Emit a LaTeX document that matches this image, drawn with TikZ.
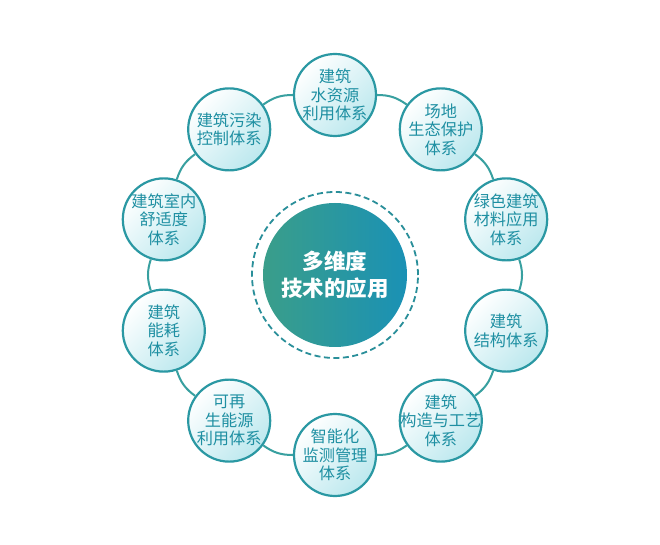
\documentclass[tikz,border=0pt]{standalone}
\usepackage{fontspec}
\newfontfamily\cjk{Noto Sans CJK SC}
\definecolor{bordc}{HTML}{2A98A3}
\definecolor{ringc}{HTML}{38A0A0}
\definecolor{txtc}{HTML}{1E8FA2}
\definecolor{fillc}{HTML}{BCE8EE}
\definecolor{cleft}{HTML}{3A9E8A}
\definecolor{cright}{HTML}{1A91B5}
\definecolor{dashc}{HTML}{2A8F9A}
\tikzset{
  subnode/.style={circle, draw=bordc, line width=2.2pt, minimum size=82pt, inner sep=-12pt,
    top color=white, bottom color=fillc, shading angle=45, text=txtc, align=center,
    font=\cjk\fontsize{16.2}{18.5}\selectfont},
  ringline/.style={draw=ringc, line width=2pt},
  hub/.style={circle, minimum size=144pt, inner sep=0pt, left color=cleft, right color=cright,
    text=white, align=center, font=\cjk\bfseries\fontsize{21.5}{27}\selectfont},
  hubring/.style={circle, draw=dashc, line width=1.8pt, dash pattern=on 6pt off 3.5pt, minimum size=166pt, inner sep=0pt}
}
\begin{document}
\begin{tikzpicture}[x=1pt,y=1pt]
\useasboundingbox (-335,-270) rectangle (325,275);
\fill[white] (-335,-270) rectangle (325,275);
\node[hubring] (hr) at (0,0) {};
\node[hub] (hub) at (0,0) {多维度\\技术的应用};
\node[subnode] (n0) at (90:180) {建筑\\水资源\\利用体系};
\node[subnode] (n1) at (54:180) {场地\\生态保护\\体系};
\node[subnode] (n2) at (18:180) {绿色建筑\\材料应用\\体系};
\node[subnode] (n3) at (-18:180) {建筑\\结构体系};
\node[subnode] (n4) at (-54:180) {建筑\\构造与工艺\\体系};
\node[subnode] (n5) at (-90:180) {智能化\\监测管理\\体系};
\node[subnode] (n6) at (-126:180) {可再\\生能源\\利用体系};
\node[subnode] (n7) at (-162:180) {建筑\\能耗\\体系};
\node[subnode] (n8) at (162:180) {建筑室内\\舒适度\\体系};
\node[subnode] (n9) at (126:180) {建筑污染\\控制体系};
\foreach \a/\b in {n0/n1,n1/n2,n2/n3,n3/n4,n4/n5,n5/n6,n6/n7,n7/n8,n8/n9,n9/n0}
  \draw[ringline] (\a) to[bend left=18] (\b);
\end{tikzpicture}
\end{document}
